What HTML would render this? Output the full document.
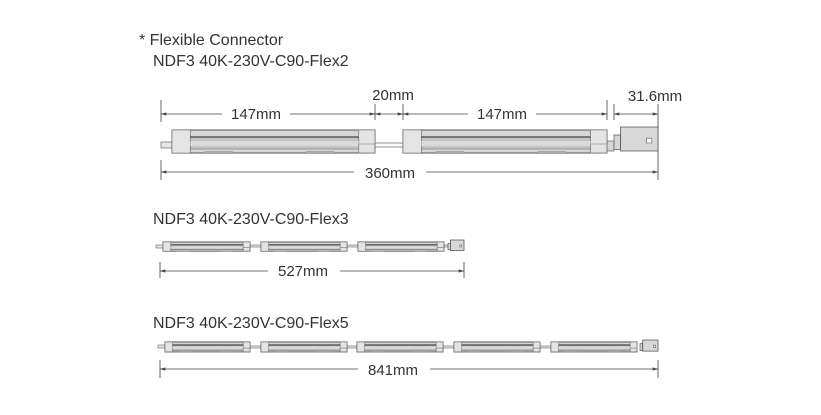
<!DOCTYPE html>
<html><head><style>
body{margin:0;background:#fff;}
svg{display:block;font-family:"Liberation Sans",sans-serif;}
</style></head><body>
<svg width="821" height="415" viewBox="0 0 821 415" xmlns="http://www.w3.org/2000/svg">
<defs>
<marker id="ar" viewBox="0 0 10 6" refX="10" refY="3" markerWidth="7" markerHeight="4" orient="auto-start-reverse"><path d="M0,0L10,3L0,6z" fill="#444"/></marker>
<g id="L">
<rect x="0" y="0" width="100" height="23" fill="#d6d6d6" stroke="#555" vector-effect="non-scaling-stroke" stroke-width="0.9"/>
<rect x="0" y="0" width="9" height="23" fill="#e4e4e4" stroke="#666" vector-effect="non-scaling-stroke" stroke-width="0.6"/>
<rect x="92" y="0" width="8" height="23" fill="#e4e4e4" stroke="#666" vector-effect="non-scaling-stroke" stroke-width="0.6"/>
<rect x="9" y="7" width="83" height="12" fill="#c4c4c4" stroke="#666" vector-effect="non-scaling-stroke" stroke-width="0.6"/>
<rect x="9" y="11" width="83" height="5" fill="#dadada"/>
<line x1="9" y1="7" x2="92" y2="7" stroke="#444" vector-effect="non-scaling-stroke" stroke-width="1.2"/>
<rect x="92" y="14" width="8" height="9" fill="none" stroke="#777" vector-effect="non-scaling-stroke" stroke-width="0.6"/>
<rect x="16" y="21" width="14" height="2" fill="#aaa"/>
<rect x="66" y="21" width="14" height="2" fill="#aaa"/>
</g>
<g id="C">
<rect x="0" y="10" width="15" height="18" fill="#d6d6d6" stroke="#555" vector-effect="non-scaling-stroke" stroke-width="0.7"/>
<rect x="15" y="0" width="85" height="30" fill="#d8d8d8" stroke="#555" vector-effect="non-scaling-stroke" stroke-width="0.8"/>
<rect x="74" y="14" width="12" height="6" fill="#fff" stroke="#555" vector-effect="non-scaling-stroke" stroke-width="0.6"/>
</g>
</defs>
<g fill="#333" font-size="16">
<text x="139" y="45">* Flexible Connector</text>
<text x="153" y="66">NDF3 40K-230V-C90-Flex2</text>
<text x="153" y="224">NDF3 40K-230V-C90-Flex3</text>
<text x="153" y="328">NDF3 40K-230V-C90-Flex5</text>
</g>
<g stroke="#444" stroke-width="0.8" fill="none">
<path d="M161 100V122M375 104V120M403 104V120M607 100V120M614 104V120M658 104V180M161 160V180"/>
<line x1="161" y1="114" x2="375" y2="114" marker-start="url(#ar)" marker-end="url(#ar)"/>
<line x1="375" y1="114" x2="403" y2="114" marker-start="url(#ar)" marker-end="url(#ar)"/>
<line x1="403" y1="114" x2="607" y2="114" marker-start="url(#ar)" marker-end="url(#ar)"/>
<line x1="614" y1="114" x2="658" y2="114" marker-start="url(#ar)" marker-end="url(#ar)"/>
<line x1="161" y1="172" x2="658" y2="172" marker-start="url(#ar)" marker-end="url(#ar)"/>
<path d="M160 262V278M464 262V278"/>
<line x1="160" y1="271" x2="464" y2="271" marker-start="url(#ar)" marker-end="url(#ar)"/>
<path d="M160 360V378M658 360V378"/>
<line x1="160" y1="369" x2="658" y2="369" marker-start="url(#ar)" marker-end="url(#ar)"/>
</g>
<g font-size="15" fill="#333" text-anchor="middle">
<rect x="222" y="104" width="68" height="18" fill="#fff"/><text x="256" y="119">147mm</text>
<rect x="468" y="104" width="68" height="18" fill="#fff"/><text x="502" y="119">147mm</text>
<text x="393" y="100">20mm</text>
<text x="655" y="101">31.6mm</text>
<rect x="354" y="162" width="72" height="20" fill="#fff"/><text x="390" y="178">360mm</text>
<rect x="268" y="261" width="72" height="20" fill="#fff"/><text x="303" y="276">527mm</text>
<rect x="358" y="359" width="72" height="20" fill="#fff"/><text x="393" y="375">841mm</text>
</g>
<g stroke="#666" stroke-width="0.7" fill="#e6e6e6">
<rect x="161" y="142" width="11" height="6"/>
<rect x="375" y="143" width="28" height="4" fill="#fafafa"/>
<rect x="607" y="141" width="7" height="10" fill="#d6d6d6"/>
</g>
<use href="#L" transform="translate(172,130) scale(2.03,1)"/>
<use href="#L" transform="translate(403,130) scale(2.04,1)"/>
<use href="#C" transform="translate(614,127) scale(0.44,0.8)"/>
<g stroke="#666" stroke-width="0.6" fill="#e6e6e6">
<rect x="156" y="245" width="7" height="3"/>
<rect x="250" y="245" width="11" height="2"/>
<rect x="347" y="245" width="11" height="2"/>
<rect x="444" y="245" width="6" height="2"/>
</g>
<use href="#L" transform="translate(163,242) scale(0.87,0.4)"/>
<use href="#L" transform="translate(261,242) scale(0.86,0.4)"/>
<use href="#L" transform="translate(358,242) scale(0.86,0.4)"/>
<use href="#C" transform="translate(448,240) scale(0.16,0.35)"/>
<g stroke="#666" stroke-width="0.6" fill="#e6e6e6">
<rect x="158" y="345" width="7" height="3"/>
<rect x="250" y="346" width="11" height="2"/>
<rect x="347" y="346" width="10" height="2"/>
<rect x="443" y="346" width="11" height="2"/>
<rect x="540" y="346" width="11" height="2"/>
</g>
<use href="#L" transform="translate(165,342) scale(0.85,0.43)"/>
<use href="#L" transform="translate(261,342) scale(0.86,0.43)"/>
<use href="#L" transform="translate(357,342) scale(0.86,0.43)"/>
<use href="#L" transform="translate(454,342) scale(0.86,0.43)"/>
<use href="#L" transform="translate(551,342) scale(0.86,0.43)"/>
<use href="#C" transform="translate(640,340) scale(0.18,0.37)"/>
</svg>
</body></html>
